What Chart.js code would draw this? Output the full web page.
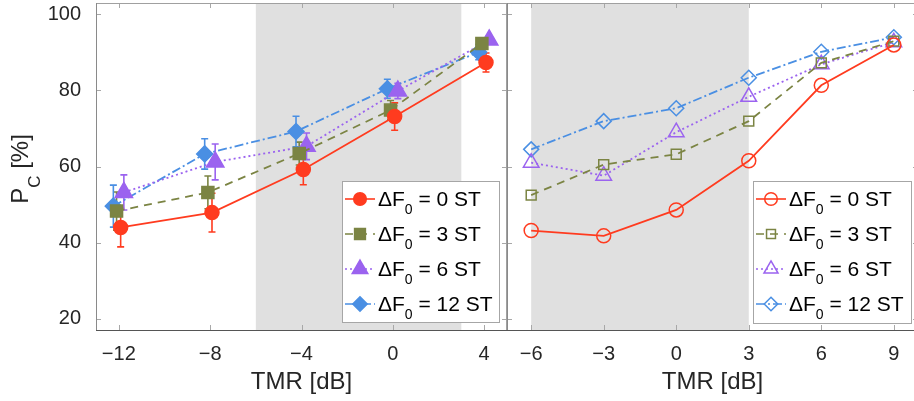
<!DOCTYPE html>
<html>
<head>
<meta charset="utf-8">
<script src="https://cdn.jsdelivr.net/npm/chart.js@4.4.1/dist/chart.umd.min.js"></script>
<style>
  html, body { margin: 0; padding: 0; background: #fff; overflow: hidden; }
  #wrap { position: relative; width: 914px; height: 401px; overflow: hidden; }
  canvas { position: absolute; top: 0; }
  #leftChart { left: 0; }
  #rightChart { left: 507px; }
</style>
</head>
<body>
<div id="wrap">
  <canvas id="leftChart" width="510" height="401"></canvas>
  <canvas id="rightChart" width="411" height="401"></canvas>
</div>
<script>
// Datos
const seriesST = ["0", "3", "6", "12"]          // ΔF0 en semitonos
const tmrLeft = [-12, -8, -4, 0, 4]
const tmrRight = [-6, -3, 0, 3, 6, 9]
const xTicksLeft = [-12, -8, -4, 0, 4]
const xTicksRight = [-6, -3, 0, 3, 6, 9]
const yTicks = [20, 40, 60, 80, 100]
const shadeRange = [-6, 3]

// panel izquierdo: medias y barras de error
const pcLeft0 = [44.0, 47.9, 59.2, 73.1, 87.3]
const pcLeft3 = [48.3, 53.2, 63.4, 74.8, 92.3]
const pcLeft6 = [53.2, 61.2, 65.3, 79.8, 93.2]
const pcLeft12 = [49.6, 63.3, 69.2, 80.4, 90.0]
const errLeft0 = [5.1, 5.1, 4.0, 3.6, 2.5]
const errLeft3 = [5.0, 4.3, 3.0, 2.5, 1.5]
const errLeft6 = [4.6, 4.7, 3.5, 2.0, 1.0]
const errLeft12 = [5.5, 4.0, 4.0, 2.5, 2.0]
const jitterLeft = [0.08, -0.1, 0.22, -0.24]

// panel derecho
const pcRight0 = [43.2, 41.8, 48.6, 61.5, 81.3, 91.9]
const pcRight3 = [52.5, 60.5, 63.2, 71.9, 87.2, 92.9]
const pcRight6 = [61.0, 57.6, 69.0, 78.3, 86.8, 92.6]
const pcRight12 = [64.5, 71.9, 75.3, 83.3, 90.1, 93.9]

// Estilos
const colors = ["#ff3b1f", "#7b8443", "#9b63ef", "#4a8fe3"]
const dashes = [[], [8, 6], [2, 3], [9, 3, 2, 3]]
const shapes = ["circle", "rect", "triangle", "rectRot"]
const radiiLeft = [7, 8.5, 10, 8]
const radiiRight = [7, 7, 9, 7.5]
const FONT = "'Liberation Sans', Arial, Helvetica, sans-serif"
const textColor = "#262626"

Chart.defaults.font.family = FONT
Chart.defaults.color = textColor

function minusSign(v) {
  return String(v).replace("-", "\u2212")
}

// Dibuja un marcador igual que Chart.js
function drawMarker(ctx, shape, x, y, r, color, filled) {
  ctx.save()
  ctx.beginPath()
  ctx.setLineDash([])
  if (shape === "circle") {
    ctx.arc(x, y, r, 0, Math.PI * 2)
  } else if (shape === "rect") {
    const s = r * Math.SQRT1_2
    ctx.rect(x - s, y - s, 2 * s, 2 * s)
  } else if (shape === "triangle") {
    ctx.moveTo(x, y - r)
    ctx.lineTo(x + r * Math.sin(Math.PI * 2 / 3), y + r / 2)
    ctx.lineTo(x - r * Math.sin(Math.PI * 2 / 3), y + r / 2)
    ctx.closePath()
  } else {
    ctx.moveTo(x, y - r)
    ctx.lineTo(x + r, y)
    ctx.lineTo(x, y + r)
    ctx.lineTo(x - r, y)
    ctx.closePath()
  }
  if (filled) {
    ctx.fillStyle = color
    ctx.fill()
  }
  ctx.strokeStyle = color
  ctx.lineWidth = 1.5
  ctx.stroke()
  ctx.restore()
}

// Zona gris
const shadePlugin = {
  id: "shade",
  beforeDatasetsDraw(chart) {
    const { ctx, chartArea, scales } = chart
    const x0 = scales.x.getPixelForValue(shadeRange[0])
    const x1 = scales.x.getPixelForValue(shadeRange[1])
    ctx.save()
    ctx.fillStyle = "#e0e0e0"
    ctx.fillRect(x0, chartArea.top, x1 - x0, chartArea.bottom - chartArea.top)
    ctx.restore()
  },
}

// Barras de error
const errorPlugin = {
  id: "errorBars",
  beforeDatasetsDraw(chart) {
    const { ctx, scales } = chart
    chart.data.datasets.forEach((ds, di) => {
      if (!ds.errors) return
      ctx.save()
      ctx.strokeStyle = ds.borderColor
      ctx.lineWidth = 1.6
      ds.data.forEach((p, i) => {
        const x = scales.x.getPixelForValue(p.x)
        const yt = scales.y.getPixelForValue(p.y + ds.errors[i])
        const yb = scales.y.getPixelForValue(p.y - ds.errors[i])
        ctx.beginPath()
        ctx.moveTo(x, yt)
        ctx.lineTo(x, yb)
        ctx.moveTo(x - 3.5, yt)
        ctx.lineTo(x + 3.5, yt)
        ctx.moveTo(x - 3.5, yb)
        ctx.lineTo(x + 3.5, yb)
        ctx.stroke()
      })
      ctx.restore()
    })
  },
}

// Marco y marcas interiores (estilo MATLAB)
const framePlugin = {
  id: "frame",
  afterDatasetsDraw(chart) {
    const { ctx, chartArea, scales } = chart
    const { left, right, top, bottom } = chartArea
    const xt = chart.options.plugins.frame.xTicks
    ctx.save()
    ctx.lineWidth = 1
    ctx.strokeStyle = "#a8a8a8"
    ctx.beginPath()
    xt.forEach((v) => {
      const x = Math.round(scales.x.getPixelForValue(v)) + 0.5
      ctx.moveTo(x, bottom)
      ctx.lineTo(x, bottom - 5)
      ctx.moveTo(x, top)
      ctx.lineTo(x, top + 5)
    })
    yTicks.forEach((v) => {
      const y = Math.round(scales.y.getPixelForValue(v)) + 0.5
      ctx.moveTo(left, y)
      ctx.lineTo(left + 5, y)
      ctx.moveTo(right, y)
      ctx.lineTo(right - 5, y)
    })
    ctx.stroke()
    // lineas del marco
    ctx.strokeStyle = "#a0a0a0"
    ctx.beginPath()
    ctx.moveTo(left, top + 0.5)
    ctx.lineTo(right, top + 0.5)
    ctx.moveTo(right - 0.5, top)
    ctx.lineTo(right - 0.5, bottom)
    ctx.stroke()
    ctx.strokeStyle = "#8a8a8a"
    ctx.beginPath()
    ctx.moveTo(left + 0.5, top)
    ctx.lineTo(left + 0.5, bottom)
    ctx.stroke()
    ctx.strokeStyle = "#555555"
    ctx.beginPath()
    ctx.moveTo(left, bottom + 0.5)
    ctx.lineTo(right, bottom + 0.5)
    ctx.stroke()
    ctx.restore()
  },
}

// Leyenda con subindices
const legendPlugin = {
  id: "subLegend",
  afterDraw(chart) {
    const o = chart.options.plugins.subLegend
    const { ctx } = chart
    ctx.save()
    ctx.fillStyle = "#ffffff"
    ctx.fillRect(o.x, o.y, o.w, o.h)
    ctx.strokeStyle = "#a6a6a6"
    ctx.lineWidth = 1
    ctx.strokeRect(o.x + 0.5, o.y + 0.5, o.w, o.h)
    seriesST.forEach((st, i) => {
      const y = o.y + 18 + 35 * i
      ctx.strokeStyle = colors[i]
      ctx.lineWidth = 1.6
      ctx.setLineDash(dashes[i])
      ctx.beginPath()
      ctx.moveTo(o.x + 3, y)
      ctx.lineTo(o.x + 33, y)
      ctx.stroke()
      ctx.setLineDash([])
      drawMarker(ctx, shapes[i], o.x + 18, y, o.radii[i] * 0.9, colors[i], o.filled)
      ctx.fillStyle = "#000000"
      ctx.textBaseline = "alphabetic"
      ctx.textAlign = "left"
      let tx = o.x + 36
      ctx.font = "21px " + FONT
      ctx.fillText("\u0394F", tx, y + 7)
      tx += ctx.measureText("\u0394F").width
      ctx.font = "14px " + FONT
      ctx.fillText("0", tx, y + 15)
      tx += ctx.measureText("0").width
      ctx.font = "21px " + FONT
      ctx.fillText(" = " + st + " ST", tx, y + 7)
    })
    ctx.restore()
  },
}

// Titulo del eje Y: P_C [%]
const yTitlePlugin = {
  id: "yTitle",
  afterDraw(chart) {
    const { ctx } = chart
    ctx.save()
    ctx.translate(28, 169)
    ctx.rotate(-Math.PI / 2)
    ctx.fillStyle = textColor
    ctx.textBaseline = "alphabetic"
    ctx.textAlign = "left"
    ctx.font = "24px " + FONT
    const wP = ctx.measureText("P").width
    const wRest = ctx.measureText(" [%]").width
    ctx.font = "17px " + FONT
    const wC = ctx.measureText("C").width
    let tx = -(wP + wC + wRest) / 2
    ctx.font = "24px " + FONT
    ctx.fillText("P", tx, 0)
    tx += wP
    ctx.font = "17px " + FONT
    ctx.fillText("C", tx, 12)
    tx += wC
    ctx.font = "24px " + FONT
    ctx.fillText(" [%]", tx, 0)
    ctx.restore()
  },
}

function makeDatasets(xs, ys, errs, jitter, radii, filled) {
  return ys.map((vals, s) => ({
    label: "\u0394F0 = " + seriesST[s] + " ST",
    data: vals.map((v, i) => ({ x: xs[i] + (jitter ? jitter[s] : 0), y: v })),
    errors: errs ? errs[s] : null,
    borderColor: colors[s],
    backgroundColor: filled ? colors[s] : "rgba(0,0,0,0)",
    borderWidth: 1.8,
    borderDash: dashes[s],
    pointStyle: shapes[s],
    pointRadius: radii[s],
    pointBorderWidth: 1.5,
    pointBackgroundColor: filled ? colors[s] : "rgba(0,0,0,0)",
    pointBorderColor: colors[s],
    tension: 0,
    clip: false,
  }))
}

function baseOptions(xMin, xMax, xTicks, showY, legendBox, radii, filled) {
  return {
    responsive: false,
    animation: false,
    events: [],
    layout: { autoPadding: false, padding: { top: 3, right: showY ? 3 : 0, left: 0, bottom: 0 } },
    plugins: {
      legend: { display: false },
      tooltip: { enabled: false },
      frame: { xTicks: xTicks },
      subLegend: Object.assign({ radii: radii, filled: filled }, legendBox),
    },
    scales: {
      x: {
        type: "linear",
        min: xMin,
        max: xMax,
        afterBuildTicks: (scale) => { scale.ticks = xTicks.map((v) => ({ value: v })) },
        afterFit: (scale) => {
          scale.height = 71
          scale.paddingLeft = 0
          scale.paddingRight = 0
        },
        grid: { display: false, drawTicks: false },
        border: { display: false },
        ticks: {
          padding: 12,
          font: { size: 20 },
          color: textColor,
          autoSkip: false,
          maxRotation: 0,
          callback: (v) => minusSign(v),
        },
        title: {
          display: true,
          text: "TMR [dB]",
          font: { size: 24 },
          color: textColor,
          padding: { top: 0, bottom: 4 },
        },
      },
      y: {
        display: showY,
        min: 17.1,
        max: 102.9,
        afterBuildTicks: (scale) => { scale.ticks = yTicks.map((v) => ({ value: v })) },
        afterFit: (scale) => {
          if (showY) scale.width = 96
          scale.paddingTop = 0
          scale.paddingBottom = 0
        },
        grid: { display: false, drawTicks: false },
        border: { display: false },
        ticks: { padding: 15, font: { size: 20 }, color: textColor },
      },
    },
  }
}

new Chart(document.getElementById("leftChart"), {
  type: "line",
  data: {
    datasets: makeDatasets(
      tmrLeft,
      [pcLeft0, pcLeft3, pcLeft6, pcLeft12],
      [errLeft0, errLeft3, errLeft6, errLeft12],
      jitterLeft,
      radiiLeft,
      true
    ),
  },
  options: baseOptions(-13, 5, xTicksLeft, true, { x: 342, y: 181, w: 157, h: 141 }, radiiLeft, true),
  plugins: [shadePlugin, errorPlugin, framePlugin, legendPlugin, yTitlePlugin],
})

new Chart(document.getElementById("rightChart"), {
  type: "line",
  data: {
    datasets: makeDatasets(
      tmrRight,
      [pcRight0, pcRight3, pcRight6, pcRight12],
      null,
      null,
      radiiRight,
      false
    ),
  },
  options: baseOptions(-7, 10, xTicksRight, false, { x: 246, y: 181, w: 158, h: 142 }, radiiRight, false),
  plugins: [shadePlugin, framePlugin, legendPlugin],
})
</script>
</body>
</html>
